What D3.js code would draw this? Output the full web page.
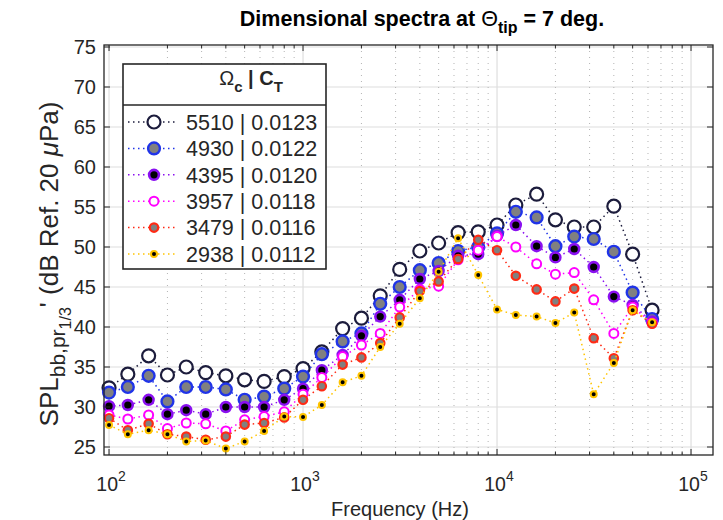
<!DOCTYPE html>
<meta charset="utf-8">
<style>
  body { margin: 0; background: #fff; }
  text { font-family: Arial, "Liberation Sans", Helvetica, sans-serif; fill: #262626; }
</style>
<body>
<script src="https://d3js.org/d3.v7.min.js"></script>
<script>
  // 1/3 octave band centre frequencies (Hz)
  const freqs = [100, 125, 160, 200, 250, 315, 400, 500, 630, 800, 1000, 1250, 1600, 2000, 2500,
    3150, 4000, 5000, 6300, 8000, 10000, 12500, 16000, 20000, 25000, 31500, 40000, 50000, 63000];

  const s5510 = [32.4, 34.1, 36.4, 34.0, 35.0, 34.3, 33.9, 33.4, 33.2, 33.8, 34.8, 36.9, 39.8, 41.1, 43.9,
    47.2, 49.5, 50.5, 51.8, 51.9, 52.75, 55.25, 56.6, 53.4, 52.5, 52.5, 55.1, 49.1, 42.1];
  const s4930 = [31.8, 32.5, 33.9, 30.7, 32.5, 32.5, 32.2, 30.9, 31.3, 32.3, 33.8, 36.6, 38.2, 39.2, 42.9,
    45.0, 47.1, 48.0, 49.5, 50.0, 51.7, 54.4, 53.7, 50.1, 51.3, 51.0, 49.4, 44.3, 41.0];
  const s4395 = [30.1, 30.25, 30.9, 29.1, 29.6, 29.1, 30.0, 30.0, 30.0, 30.9, 32.3, 34.6, 36.5, 38.9, 41.3,
    43.4, 46.0, 47.0, 48.9, 49.1, 51.4, 52.75, 50.1, 48.7, 49.75, 47.5, 43.8, 42.75, 40.7];
  const s3957 = [29.0, 28.5, 29.0, 27.3, 28.0, 27.9, 27.0, 28.4, 28.8, 29.4, 31.6, 33.7, 36.3, 37.75, 39.2,
    42.5, 44.7, 45.1, 48.4, 49.6, 51.3, 50.0, 47.9, 46.6, 46.8, 43.4, 39.2, 42.5, 40.5];
  const s3479 = [28.6, 27.1, 27.9, 26.6, 26.3, 25.9, 26.3, 27.8, 28.0, 28.7, 30.9, 32.6, 35.3, 36.2, 38.0,
    41.2, 44.5, 45.7, 48.5, 50.9, 49.6, 46.4, 44.7, 43.2, 44.8, 38.6, 36.1, 42.1, 40.4];
  const s2938 = [27.75, 26.6, 27.1, 26.6, 25.7, 25.8, 24.8, 25.7, 27.0, 28.8, 28.75, 30.25, 33.1, 33.9, 37.5,
    40.4, 43.6, 46.9, 51.1, 46.5, 42.2, 41.5, 41.3, 40.5, 41.8, 31.6, 35.5, 42.1, 40.6];

  const omegas = ["5510", "4930", "4395", "3957", "3479", "2938"];
  const cts = ["0.0123", "0.0122", "0.0120", "0.0118", "0.0116", "0.0112"];
  const yTicks = [25, 30, 35, 40, 45, 50, 55, 60, 65, 70, 75];
  const xDecades = [2, 3, 4, 5];

  // marker look per series: line/edge colour, fill, radius
  const styles = [
    {color: "#1c1c3c", fill: "#ffffff", r: 6.5, sw: 2.2},
    {color: "#2034e8", fill: "#808080", r: 5.9, sw: 2.4},
    {color: "#8a10f0", fill: "#000000", r: 4.9, sw: 2.6},
    {color: "#ff00ff", fill: "#ffffff", r: 4.5, sw: 2.0},
    {color: "#ff2a14", fill: "#808080", r: 4.2, sw: 2.2},
    {color: "#ffc400", fill: "#000000", r: 3.0, sw: 2.0}
  ];
  const series = [s5510, s4930, s4395, s3957, s3479, s2938].map((v, i) => ({
    values: v, label: omegas[i] + " | " + cts[i], st: styles[i]
  }));

  const W = 723, H = 520;
  const pL = 104, pR = 713, pT = 45, pB = 455;

  const svg = d3.select("body").append("svg")
    .attr("width", W).attr("height", H);

  const x = d3.scaleLog().domain([94.2, 1.298e5]).range([pL, pR]);
  const y = d3.scaleLinear().domain([24, 75.25]).range([pB, pT]);

  // minor frequencies for grid / ticks
  const minor = [];
  xDecades.forEach(d => {
    for (let k = 2; k <= 9; k++) {
      const f = k * Math.pow(10, d);
      if (f < x.domain()[1]) minor.push(f);
    }
  });
  const major = xDecades.map(d => Math.pow(10, d));

  const grid = svg.append("g");
  grid.selectAll(".ymaj").data(yTicks).join("line")
    .attr("x1", pL).attr("x2", pR)
    .attr("y1", d => y(d)).attr("y2", d => y(d))
    .attr("stroke", "#dedede").attr("stroke-width", 1.2);
  grid.selectAll(".xmin").data(minor).join("line")
    .attr("x1", d => x(d)).attr("x2", d => x(d))
    .attr("y1", pT).attr("y2", pB)
    .attr("stroke", "#b4b4b4").attr("stroke-width", 1)
    .attr("stroke-dasharray", "1,5");
  grid.selectAll(".xmaj").data(major).join("line")
    .attr("x1", d => x(d)).attr("x2", d => x(d))
    .attr("y1", pT).attr("y2", pB)
    .attr("stroke", "#dedede").attr("stroke-width", 1.2);

  // data lines and markers
  const line = d3.line().x((d, i) => x(freqs[i])).y(d => y(d));
  const plot = svg.append("g");
  series.forEach(s => {
    plot.append("path")
      .attr("d", line(s.values))
      .attr("fill", "none")
      .attr("stroke", s.st.color)
      .attr("stroke-width", 1.5)
      .attr("stroke-dasharray", "1.5,3.5");
    plot.append("g").selectAll("circle").data(s.values).join("circle")
      .attr("cx", (d, i) => x(freqs[i]))
      .attr("cy", d => y(d))
      .attr("r", s.st.r)
      .attr("fill", s.st.fill)
      .attr("stroke", s.st.color)
      .attr("stroke-width", s.st.sw);
  });

  // axes box and ticks
  const ax = svg.append("g").attr("stroke", "#262626");
  ax.append("rect").attr("x", pL).attr("y", pT)
    .attr("width", pR - pL).attr("height", pB - pT)
    .attr("fill", "none").attr("stroke-width", 1.3);
  yTicks.forEach(t => {
    ax.append("line").attr("x1", pL).attr("x2", pL + 6).attr("y1", y(t)).attr("y2", y(t));
    ax.append("line").attr("x1", pR).attr("x2", pR - 6).attr("y1", y(t)).attr("y2", y(t));
  });
  major.forEach(f => {
    ax.append("line").attr("x1", x(f)).attr("x2", x(f)).attr("y1", pB).attr("y2", pB - 6);
    ax.append("line").attr("x1", x(f)).attr("x2", x(f)).attr("y1", pT).attr("y2", pT + 6);
  });
  minor.forEach(f => {
    ax.append("line").attr("x1", x(f)).attr("x2", x(f)).attr("y1", pB).attr("y2", pB - 3.5);
    ax.append("line").attr("x1", x(f)).attr("x2", x(f)).attr("y1", pT).attr("y2", pT + 3.5);
  });

  // tick labels
  svg.append("g").selectAll("text").data(yTicks).join("text")
    .attr("x", pL - 8).attr("y", d => y(d)).attr("dy", "0.36em")
    .attr("text-anchor", "end").style("font-size", "20px")
    .text(d => d);
  const xl = svg.append("g").selectAll("text").data(xDecades).join("text")
    .attr("x", d => x(Math.pow(10, d)) + 2).attr("y", 491)
    .attr("text-anchor", "middle").style("font-size", "19.5px");
  xl.append("tspan").text("10");
  xl.append("tspan").attr("dy", -10).style("font-size", "14px").text(d => d);

  // axis titles
  svg.append("text").attr("x", 400).attr("y", 516)
    .attr("text-anchor", "middle").style("font-size", "20px").text("Frequency (Hz)");

  const yl = svg.append("text")
    .attr("transform", "translate(58,264) rotate(-90)")
    .attr("text-anchor", "middle").style("font-size", "26px");
  yl.append("tspan").text("SPL");
  yl.append("tspan").attr("dy", 7).style("font-size", "21px").text("bb,pr");
  yl.append("tspan").attr("dy", 6).style("font-size", "16px").text("1/3");
  yl.append("tspan").attr("dy", -13).text("' (dB Ref. 20 ");
  yl.append("tspan").style("font-style", "italic").text("\u03bc");
  yl.append("tspan").text("Pa)");

  const title = svg.append("text").attr("x", 422).attr("y", 26)
    .attr("text-anchor", "middle").style("font-size", "21.5px")
    .style("font-weight", "bold").style("fill", "#000");
  title.append("tspan").text("Dimensional spectra at ");
  title.append("tspan").style("font-weight", "normal").text("\u0398");
  title.append("tspan").attr("dy", 7).style("font-size", "16px").text("tip");
  title.append("tspan").attr("dy", -7).text(" = 7 deg.");

  // legend
  const lg = svg.append("g");
  const lx = 123, ly = 64, lw = 203, lh = 205, rowH = 26.4, row0 = 122;
  lg.append("rect").attr("x", lx).attr("y", ly).attr("width", lw).attr("height", lh)
    .attr("fill", "#fff").attr("stroke", "#262626").attr("stroke-width", 1.6);
  lg.append("line").attr("x1", lx).attr("x2", lx + lw).attr("y1", 105).attr("y2", 105)
    .attr("stroke", "#262626").attr("stroke-width", 1.6);
  const lt = lg.append("text").attr("x", 251).attr("y", 85)
    .attr("text-anchor", "middle").style("font-size", "20px").style("font-weight", "bold");
  lt.append("tspan").style("font-weight", "normal").text("\u03a9");
  lt.append("tspan").attr("dy", 7).style("font-size", "15px").text("c");
  lt.append("tspan").attr("dy", -7).text(" | C");
  lt.append("tspan").attr("dy", 7).style("font-size", "15px").text("T");

  series.forEach((s, i) => {
    const cy = row0 + i * rowH;
    lg.append("line").attr("x1", 128).attr("x2", 178).attr("y1", cy).attr("y2", cy)
      .attr("stroke", s.st.color).attr("stroke-width", 1.5).attr("stroke-dasharray", "1.5,3.5");
    lg.append("circle").attr("cx", 154).attr("cy", cy).attr("r", s.st.r)
      .attr("fill", s.st.fill).attr("stroke", s.st.color).attr("stroke-width", s.st.sw);
    lg.append("text").attr("x", 186).attr("y", cy).attr("dy", "0.36em")
      .style("font-size", "21.5px").text(s.label);
  });
</script>
</body>
